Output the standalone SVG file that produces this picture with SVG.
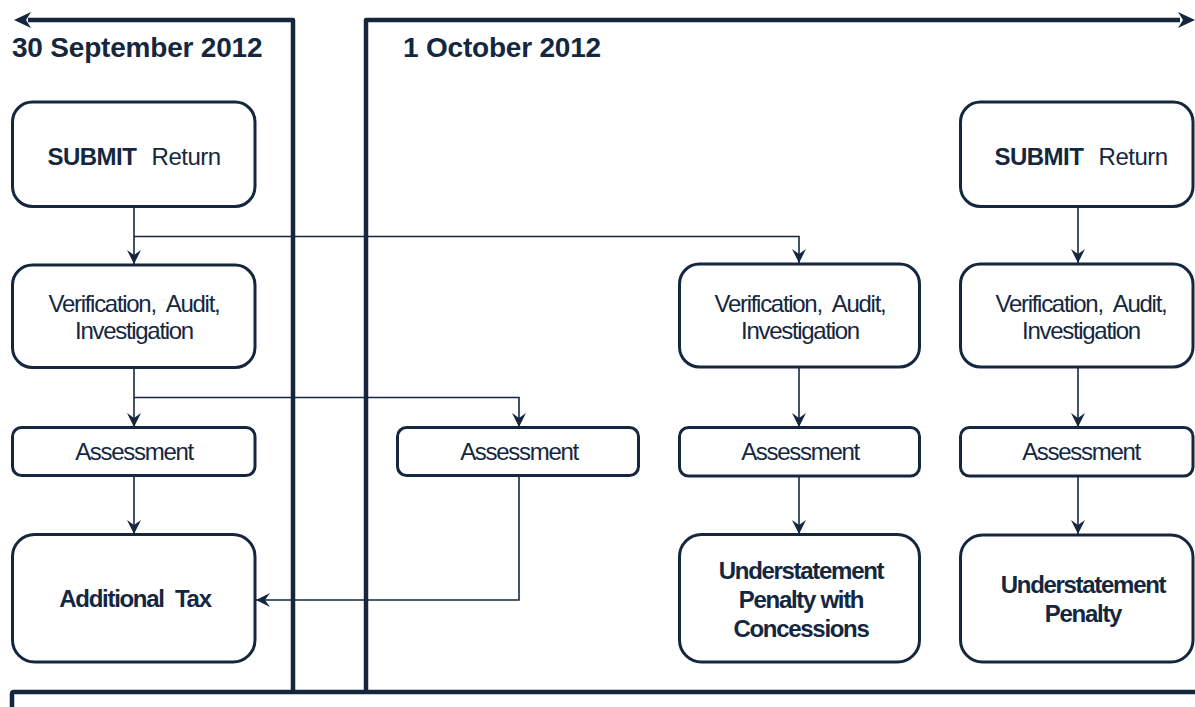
<svg xmlns="http://www.w3.org/2000/svg" width="1195" height="707" viewBox="0 0 1195 707">
<defs>
<style>
.box{fill:#fff;stroke:#15273f;stroke-width:3}
.thick{fill:none;stroke:#15273f;stroke-width:4.5;stroke-linejoin:round}
.conn{fill:none;stroke:#15273f;stroke-width:1.6}
.ah{fill:#15273f}
text{font-family:"Liberation Sans",Arial,sans-serif;fill:#15273f;text-anchor:middle;font-size:24px;letter-spacing:-1.3px}
.b{font-weight:bold}
.sub{letter-spacing:-0.5px}
.title{font-size:28px;font-weight:bold;text-anchor:start;letter-spacing:-0.2px}
</style>
<marker id="arr" markerUnits="userSpaceOnUse" markerWidth="16" markerHeight="16" refX="14" refY="7" orient="auto" viewBox="0 0 16 14">
<path d="M0,0 L14,7 L0,14 L5,7 Z" fill="#15273f"/>
</marker>
</defs>
<rect width="1195" height="707" fill="#fff"/>

<g id="timeline">
<path class="thick" d="M28,20 L293,20 L293,692"/>
<path class="ah" d="M14,20 L31,12 L26,20 L31,28 Z"/>
<path class="thick" d="M366,692 L366,20 L1180,20"/>
<path class="ah" d="M1195,20 L1178,12 L1183,20 L1178,28 Z"/>
<path class="thick" d="M12,707 L12,694 Q12,692 14,692 L1195,692"/>
<text class="title" x="12" y="57">30 September 2012</text>
<text class="title" x="403" y="57">1 October 2012</text>
</g>

<g id="connectors">
<path class="conn" d="M134,206 L134,264" marker-end="url(#arr)"/>
<path class="conn" d="M134,236.5 L799,236.5 L799,263" marker-end="url(#arr)"/>
<path class="conn" d="M134,367 L134,427" marker-end="url(#arr)"/>
<path class="conn" d="M134,397.5 L519,397.5 L519,427" marker-end="url(#arr)"/>
<path class="conn" d="M134,475 L134,534" marker-end="url(#arr)"/>
<path class="conn" d="M519,475 L519,600 L256,600" marker-end="url(#arr)"/>
<path class="conn" d="M799,367 L799,427" marker-end="url(#arr)"/>
<path class="conn" d="M799,476 L799,534" marker-end="url(#arr)"/>
<path class="conn" d="M1078,206 L1078,263" marker-end="url(#arr)"/>
<path class="conn" d="M1078,367 L1078,427" marker-end="url(#arr)"/>
<path class="conn" d="M1078,476 L1078,534" marker-end="url(#arr)"/>
</g>

<g id="submit-left">
<rect class="box" x="12.5" y="102" width="242.5" height="104.5" rx="20"/>
<text class="sub" x="134" y="165"><tspan class="b">SUBMIT</tspan> <tspan dx="9">Return</tspan></text>
</g>
<g id="verify-left">
<rect class="box" x="12.5" y="265" width="242.5" height="102.5" rx="20"/>
<text x="134" y="312">Verification, <tspan dx="6">Audit,</tspan></text>
<text x="134" y="339">Investigation</text>
</g>
<g id="assess-left">
<rect class="box" x="12.5" y="427.5" width="242.5" height="48" rx="9"/>
<text x="134" y="460">Assessment</text>
</g>
<g id="addtax">
<rect class="box" x="12.5" y="534.5" width="242.5" height="127.5" rx="22"/>
<text class="b" x="135" y="607">Additional <tspan dx="6">Tax</tspan></text>
</g>

<g id="assess-mid">
<rect class="box" x="397.5" y="427.5" width="241" height="48" rx="9"/>
<text x="519" y="460">Assessment</text>
</g>

<g id="verify-mr">
<rect class="box" x="679.5" y="264" width="240" height="103" rx="20"/>
<text x="800" y="312">Verification, <tspan dx="6">Audit,</tspan></text>
<text x="800" y="339">Investigation</text>
</g>
<g id="assess-mr">
<rect class="box" x="679.5" y="427.5" width="240" height="48.5" rx="9"/>
<text x="800" y="460">Assessment</text>
</g>
<g id="penalty-concessions">
<rect class="box" x="679.5" y="534.5" width="240" height="127.5" rx="22"/>
<text class="b" x="801" y="579">Understatement</text>
<text class="b" x="801" y="608">Penalty with</text>
<text class="b" x="801" y="637">Concessions</text>
</g>

<g id="submit-right">
<rect class="box" x="960.5" y="102" width="232.5" height="104.5" rx="20"/>
<text class="sub" x="1081" y="165"><tspan class="b">SUBMIT</tspan> <tspan dx="9">Return</tspan></text>
</g>
<g id="verify-right">
<rect class="box" x="960.5" y="264" width="232.5" height="103" rx="20"/>
<text x="1081" y="312">Verification, <tspan dx="6">Audit,</tspan></text>
<text x="1081" y="339">Investigation</text>
</g>
<g id="assess-right">
<rect class="box" x="960.5" y="427.5" width="232.5" height="48.5" rx="9"/>
<text x="1081" y="460">Assessment</text>
</g>
<g id="penalty">
<rect class="box" x="960.5" y="535" width="232.5" height="127" rx="22"/>
<text class="b" x="1083" y="593">Understatement</text>
<text class="b" x="1083" y="622">Penalty</text>
</g>
</svg>
